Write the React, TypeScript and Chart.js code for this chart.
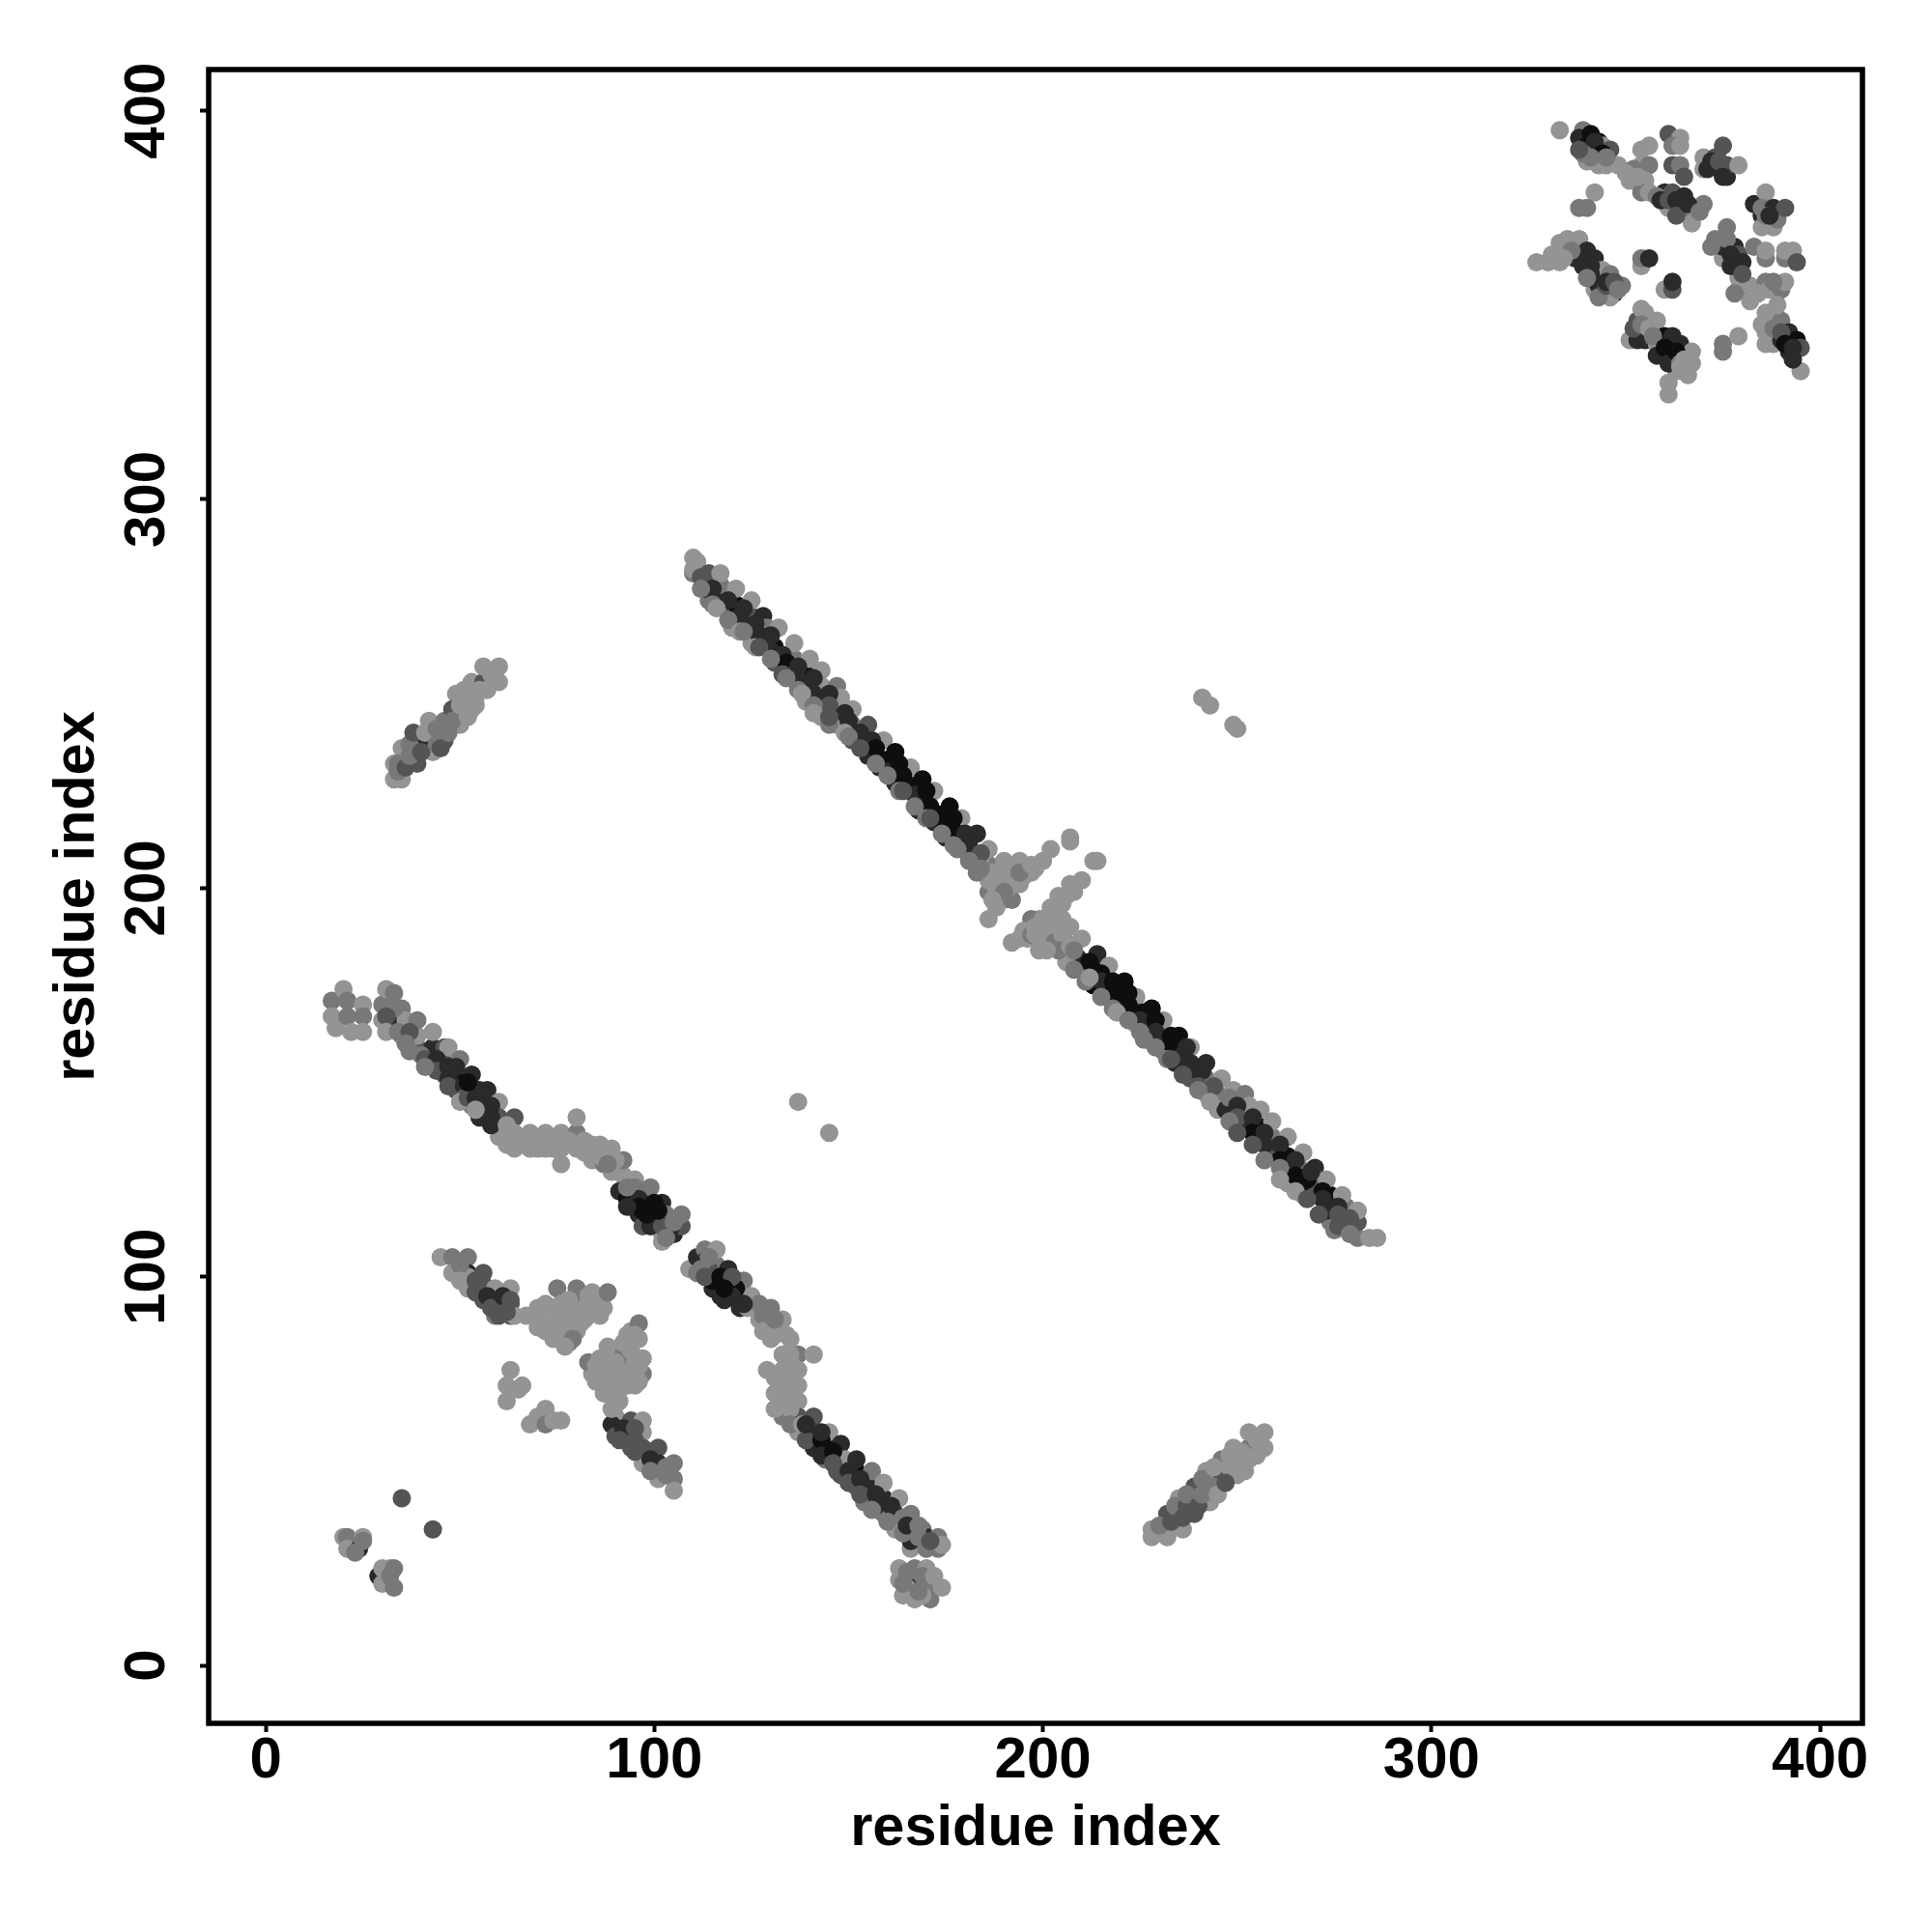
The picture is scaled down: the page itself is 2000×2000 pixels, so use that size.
import React, { useEffect, useRef } from "react";
import { Chart, registerables } from "chart.js";

Chart.register(...registerables);

type Pt = [number, number, number];

const xTickValues = [0, 100, 200, 300, 400];
const yTickValues = [0, 100, 200, 300, 400];
const axisLabel = "residue index";
// contact strength 0 (weak) to 4 (strong) -> gray level
const strengthGrays = [148, 120, 84, 42, 14];

const diagonalUnderRim: Pt[] = [
  [112,277,1],[115,273,1],[116,272,0],[119,269,1],[122,266,0],[123,266,1],[126,262,0],[127,262,2],[130,259,1],[133,255,2],[134,254,1],[137,251,1],[138,250,0],[141,247,1],[141,245,0],[145,242,1],[145,244,2],[149,240,0],[150,239,1],[153,236,2],[157,232,1],[160,229,1],[163,225,1],[164,225,2],[167,221,1],[170,218,1],[171,218,2],[174,214,1],[177,211,1],[178,210,1],[181,207,1],[184,205,1],
  [208,179,1],[211,176,1],[212,177,0],[215,172,1],[218,169,1],[219,168,0],[222,166,1],[225,163,1],[226,161,1],[229,159,1],[232,156,1],[233,156,2],[236,152,2],[240,149,2],[240,148,1],[243,145,0],[248,140,1],[250,137,2],[254,134,2],[257,130,1],[261,128,1],[261,125,0],[265,122,0],[268,120,2],[271,116,2],[275,112,1],[276,113,2],[279,111,1],
];

const diagonalUnderCore: Pt[] = [
  [112,280,2],[115,277,3],[119,274,3],[122,270,3],[123,272,3],[126,268,3],[127,265,3],[130,265,3],[130,261,3],[133,260,3],[134,258,4],[137,257,3],[138,253,3],[141,254,3],[141,250,3],[145,250,3],[145,247,2],[149,245,3],[150,243,3],[153,240,3],[156,238,3],[157,236,4],[160,233,4],[160,230,3],[163,232,4],[164,229,4],[167,226,4],[167,224,3],[170,225,4],[171,221,4],[173,219,4],[174,217,4],[177,218,4],[178,214,4],[180,214,3],[181,212,3],[184,209,2],
  [212,181,4],[215,178,4],[215,176,3],[218,173,4],[218,176,4],[222,173,4],[222,170,4],[226,168,4],[225,166,3],[229,166,4],[229,163,3],[233,162,4],[233,160,4],[236,157,3],[237,159,3],[240,153,3],[241,153,3],[244,149,2],[248,146,1],[250,144,3],[250,141,2],[254,141,3],[254,137,4],[257,137,3],[257,134,3],[261,134,3],[261,130,4],[265,130,3],[265,126,4],[268,125,4],[269,127,3],[272,122,4],[272,120,3],[276,118,3],[276,116,2],[279,115,2],
];

const turnFill: Pt[] = [
  [188,199,0],[188,203,0],[191,200,0],[191,203,0],[192,205,0],[195,203,0],[196,205,0],[189,202,0],[194,204,1],[190,199,1],[187,197,0],[187,204,0],[184,208,0],[185,204,0],[183,204,1],[197,206,0],
  [194,187,0],[196,187,0],[197,188,1],[198,190,0],[200,192,0],[198,188,0],[201,191,0],[203,193,0],[204,195,0],[205,192,0],[205,196,0],[208,199,0],[206,198,0],[205,188,0],[204,184,1],[207,185,0],[208,184,1],[201,184,0],[199,184,0],
];

const lowerUnder: Pt[] = [
  [33,169,1],[31,167,2],[31,163,0],[34,163,1],[37,163,2],[36,160,1],[37,158,1],[40,157,1],[41,156,2],[44,156,3],[44,153,2],[41,154,1],[47,151,3],[47,154,3],[47,149,2],[51,149,3],[51,146,2],[50,145,0],[52,146,2],[54,146,3],[55,141,3],[55,148,3],[58,144,3],[58,141,3],[58,139,3],[54,143,0],[52,150,4],[49,154,3],
  [62,139,0],[62,134,0],[66,134,0],[66,135,0],[70,135,0],[70,133,0],[74,135,0],[74,133,0],[78,135,0],[82,135,0],[82,132,0],[86,131,0],[86,134,0],[90,130,0],[88,129,1],
  [93,120,4],[96,120,3],[96,118,4],[96,116,3],[100,116,4],[100,114,3],[100,119,4],[97,113,2],[93,123,1],[103,113,2],[104,112,3],[99,113,3],[102,113,2],[105,114,1],[103,110,1],[97,117,4],[93,118,3],[98,116,4],[101,117,4],
  [113,104,3],[114,102,2],[112,102,1],[113,100,2],[114,105,1],[117,98,4],[117,100,4],[117,95,3],[121,97,4],[120,95,3],[120,100,2],[123,93,3],[118,97,4],[128,90,1],[128,86,0],[131,85,0],[131,89,1],[135,84,0],[135,80,0],[135,78,0],[131,74,0],[135,74,0],[131,70,0],[135,70,0],[135,66,0],[131,66,0],[135,62,1],[138,62,0],[139,58,2],[139,62,3],
  [143,58,4],[143,60,3],[143,54,3],[146,55,4],[146,52,2],[147,50,2],[150,50,3],[150,47,2],[153,48,3],[153,44,2],[157,44,3],[157,41,3],[156,40,1],[161,41,3],[160,37,1],[164,38,1],[164,34,1],[165,36,3],[168,33,1],[168,36,1],[171,32,2],[165,24,1],[165,20,0],[169,23,1],[169,18,0],[172,23,0],[168,19,1],[164,21,1],
];

const sideUnder: Pt[] = [
  [50,103,1],[50,99,0],[54,99,2],[54,96,2],[57,95,3],[58,92,2],[61,92,2],[61,95,3],[60,90,2],[62,91,2],[63,94,2],[92,61,3],[91,58,2],[95,61,2],[95,58,2],[95,55,2],[99,55,2],[99,53,3],[99,50,1],[103,51,1],[103,49,1],
  [70,92,0],[74,92,0],[74,88,0],[72,86,0],[76,93,0],[75,88,0],[78,86,0],[78,94,0],[80,90,0],[80,86,0],[82,92,0],[83,90,0],[77,91,0],[83,95,0],[86,90,0],[79,84,1],[77,82,0],
  [86,75,0],[85,73,0],[87,72,0],[88,70,0],[88,72,0],[85,75,0],[91,71,0],[92,75,0],[95,78,0],[94,75,0],[90,78,0],[88,79,0],[91,68,0],[89,66,0],[92,83,0],[95,85,0],[96,77,0],[96,73,0],[95,72,0],[94,81,0],
];

const mirrorUnder: Pt[] = [
  [34,230,1],[36,231,2],[37,234,1],[37,237,1],[38,240,2],[40,235,2],[41,240,0],[44,241,1],[44,237,1],[45,236,2],[47,240,1],[48,243,1],[50,247,0],[51,248,0],[52,244,0],[51,251,0],[55,251,0],[54,247,0],[57,251,0],[58,255,0],
  [230,36,1],[233,37,2],[234,41,1],[237,41,2],[237,44,1],[236,38,2],[240,41,2],[241,44,1],[241,48,1],[244,46,1],[245,44,0],[244,51,0],[248,51,0],[248,54,0],[247,47,2],[251,52,0],[251,55,0],[255,54,0],[255,58,0],[252,50,0],
];

const cornerUnder: Pt[] = [
  [342,392,3],[344,389,4],[345,388,1],[341,388,1],[339,389,1],[338,390,2],[352,385,1],[350,384,0],[353,383,0],[358,378,1],[359,377,3],[361,377,2],[363,377,3],[363,373,2],[366,376,3],[369,374,1],[371,385,3],[372,387,3],[374,387,2],[375,383,3],[386,373,1],[387,373,3],[372,365,1],[376,367,1],[377,360,3],[377,363,3],[380,361,3],[380,358,2],[378,353,1],[384,353,0],[388,356,1],[389,350,0],[385,345,0],[388,344,1],[390,343,2],[391,340,4],[393,339,3],[393,336,3],
  [339,362,3],[341,360,3],[341,358,3],[343,355,3],[343,352,1],[345,355,2],[345,356,3],[347,356,2],[348,354,1],[340,357,1],[336,364,1],[334,362,0],[351,341,0],[353,341,3],[352,344,2],[354,345,1],[356,344,0],[357,342,1],[358,337,3],[360,337,3],[360,339,4],[361,335,3],[363,338,4],[364,335,1],[365,336,0],[364,334,0],
];

const diagonalUpper: Pt[] = [
  [110,281,1],[110,282,0],[110,285,0],[111,284,0],[114,274,1],[113,277,3],[114,281,2],[117,274,3],[117,278,1],[117,281,0],
  [120,267,0],[120,270,2],[121,273,4],[121,277,0],[125,263,0],[125,267,4],[125,270,2],[125,274,0],[128,263,2],[128,270,3],[129,267,1],[132,267,0],
  [131,258,2],[131,262,4],[135,255,3],[136,259,1],[136,263,0],[139,248,0],[139,252,3],[139,255,4],[140,259,0],[143,244,0],[142,248,3],[143,252,0],[143,256,0],
  [147,242,0],[147,252,1],[148,249,0],[151,238,2],[151,242,1],[151,246,0],[155,234,3],[154,238,3],[155,242,2],[158,231,3],[159,238,0],[161,230,4],[162,227,3],[162,235,4],
  [165,227,3],[166,231,0],[168,220,3],[168,223,4],[169,228,4],[172,217,3],[172,225,0],[175,213,3],[175,216,4],[176,221,4],[179,210,0],[179,218,0],[182,209,3],[183,214,3],[186,210,0],
];

const diagonalTurn: Pt[] = [
  [186,192,0],[188,195,0],[186,199,1],[186,202,0],[186,206,1],[190,197,0],[189,200,0],[192,197,1],[190,204,0],[190,207,0],[194,201,0],[193,204,0],[194,207,0],
  [197,204,0],[198,205,0],[200,207,0],[202,210,0],[207,213,0],[207,212,0],[214,207,0],[213,207,0],[210,202,0],[207,201,0],[204,198,0],[202,195,0],[199,192,0],
  [197,192,1],[195,189,0],[192,186,0],[200,189,1],[199,186,0],[202,193,0],[203,190,0],[202,187,0],[207,190,0],[206,186,0],[203,186,1],[206,183,1],[210,187,0],[209,182,3],[206,181,0],
];

const diagonalLower: Pt[] = [
  [210,179,1],[213,179,4],[214,183,3],[217,180,0],[213,175,4],[217,172,1],[217,175,4],[221,176,4],[220,172,4],[220,168,3],[224,172,0],[224,168,3],[224,165,0],
  [227,165,4],[227,161,3],[228,169,4],[231,166,0],[231,161,3],[231,158,1],[235,162,4],[234,158,3],[234,155,3],[238,159,0],[238,155,3],[238,151,2],[242,155,3],[242,151,1],
  [242,147,0],[245,147,1],[245,143,0],[246,151,0],[247,143,3],[249,148,0],[249,140,0],[252,147,1],[252,139,3],[253,144,0],[255,139,4],[255,135,3],[256,143,0],
  [259,132,2],[259,136,1],[259,140,0],[263,124,0],[263,128,2],[263,131,4],[263,136,0],[266,128,1],[267,121,0],[267,124,4],[267,132,0],[270,128,3],[270,121,2],[271,125,2],
  [274,114,1],[273,117,3],[274,121,4],[273,125,0],[277,114,2],[278,118,1],[277,121,0],[281,110,1],[281,114,2],[281,117,0],[284,110,0],[286,110,0],
];

const lowerStrandTop: Pt[] = [
  [17,171,1],[17,167,0],[18,164,0],[20,174,0],[21,171,1],[21,167,1],[22,163,0],[25,170,0],[25,167,1],[25,163,0],
  [30,166,0],[30,170,1],[31,174,0],[33,166,3],[33,173,1],[35,162,0],[35,169,1],[36,166,0],[39,159,2],[39,162,0],[39,166,1],[42,155,0],[43,159,3],[43,163,0],
  [46,152,2],[46,155,2],[46,159,2],[47,159,0],[49,148,2],[49,151,4],[50,156,1],[53,144,1],[53,148,3],[53,152,3],[56,144,3],[57,141,3],[57,148,3],[60,145,0],[60,141,2],[64,141,2],
  [60,136,0],[64,133,0],[64,137,0],[68,133,0],[68,137,0],[72,133,0],[72,137,0],[76,129,0],[76,133,0],[76,137,0],[80,133,0],[80,137,1],[80,141,0],
  [84,130,0],[84,134,0],[87,129,1],[89,127,0],[89,133,0],[92,126,0],[92,130,1],[91,122,3],[94,118,3],[94,121,3],[95,125,0],[95,123,1],[98,115,4],[98,119,4],[99,123,1],
  [102,109,0],[102,111,0],[102,115,3],[102,119,3],[105,111,3],[103,116,1],[107,113,2],[107,116,1],
];

const lowerStrandMiddle: Pt[] = [
  [109,102,0],[111,101,1],[111,105,3],[113,107,1],[115,97,3],[115,99,4],[116,103,1],[116,107,0],[118,94,3],[119,98,4],[119,102,3],[123,99,1],[122,92,3],[122,96,1],
  [124,92,0],[125,95,0],[127,89,0],[127,93,1],[130,84,0],[129,88,1],[130,92,1],[133,89,0],[134,85,0],
  [133,80,0],[137,80,1],[141,80,0],[129,76,0],[133,76,0],[137,76,0],[133,72,0],[137,72,0],[133,68,0],[137,68,0],[133,64,1],[137,60,0],[137,64,2],
];

const lowerStrandBottom: Pt[] = [
  [141,56,3],[141,60,3],[141,64,2],[145,56,4],[145,60,0],[144,53,1],[148,49,2],[148,57,3],[149,53,0],[152,46,2],[152,50,4],[152,53,3],
  [154,42,1],[155,46,3],[156,50,1],[159,39,1],[159,43,3],[159,47,0],[162,35,0],[162,39,3],[163,43,0],[166,30,0],[166,32,3],[166,35,0],[166,39,1],
  [169,35,1],[170,30,1],[170,33,3],[173,30,1],[173,33,1],[174,31,0],
  [163,25,0],[163,22,0],[164,18,0],[167,25,1],[167,22,1],[167,20,3],[167,17,0],[170,25,0],[171,21,1],[171,17,1],[174,20,0],
];

const sideStrand: Pt[] = [
  [45,105,0],[48,105,1],[52,105,1],[48,101,0],[52,101,3],[52,97,0],[52,100,0],[56,101,2],[56,98,2],[56,94,2],[59,94,2],[59,90,1],[59,97,0],[63,90,2],[63,93,2],[63,97,0],[64,90,0],
  [89,62,3],[90,59,2],[94,63,2],[93,60,2],[94,56,2],[97,63,0],[97,60,0],[97,56,2],[97,52,0],[101,56,2],[101,52,3],[101,48,0],[105,52,1],[105,48,1],[105,45,0],
];

const sideCrossing: Pt[] = [
  [67,90,0],[70,87,0],[72,93,0],[72,88,0],[70,90,0],[73,86,0],[74,84,0],[75,97,1],[76,90,0],[76,86,0],[78,83,1],[78,89,0],[76,84,0],[80,97,1],[80,93,1],[81,90,0],[79,86,0],[81,88,0],[82,89,0],[78,92,0],
  [84,96,0],[83,93,0],[85,92,0],[87,92,0],[86,94,0],[88,96,1],
  [84,75,0],[83,78,1],[85,77,0],[88,82,0],[86,79,0],[88,77,0],[87,74,0],[87,70,0],[90,80,0],[90,76,0],[90,73,0],[90,70,0],[90,67,0],[90,64,0],[93,72,0],[93,76,0],[92,80,1],[93,85,0],[94,86,0],[96,88,1],[96,84,0],[97,79,0],[97,75,1],
];

const smallClusters: Pt[] = [
  [63,76,0],[62,72,0],[66,72,0],[65,71,0],[62,68,0],[72,66,0],[70,64,0],[68,62,0],[72,62,1],[76,63,0],[74,63,0],
  [35,43,2],[43,35,2],
  [20,33,0],[21,33,1],[21,30,0],[24,30,3],[23,29,1],[25,33,0],[25,32,1],
  [29,23,3],[30,21,0],[30,25,0],[32,25,0],[33,25,1],[32,23,1],[33,20,1],
  [137,145,0],[145,137,0],[241,249,0],[243,247,0],[249,242,0],[250,241,0],
];

const mirrorUp: Pt[] = [
  [33,232,0],[33,228,0],[35,228,0],[35,236,0],[34,232,1],[39,232,2],[39,236,2],[39,238,2],[41,238,3],[42,243,0],[43,235,0],[46,243,1],[46,238,2],[50,242,0],
  [49,250,0],[48,246,2],[53,246,0],[54,249,0],[53,253,0],[56,253,2],[56,257,0],[60,257,0],[60,253,0],
];

const mirrorDown: Pt[] = [
  [228,35,0],[228,33,0],[232,39,2],[232,34,1],[232,33,0],[235,43,0],[235,39,2],[236,35,0],[239,46,2],[239,42,3],[239,39,2],[242,50,0],[243,45,0],[243,42,0],
  [246,49,2],[246,53,1],[250,49,0],[249,56,0],[253,53,0],[253,56,1],[253,60,0],[257,60,0],[257,56,0],
];

const cornerTop: Pt[] = [
  [333,395,0],[339,395,1],[338,393,3],[341,394,4],[343,392,4],[340,391,4],[342,390,3],[344,391,0],[346,390,2],[340,387,0],[343,386,0],[345,386,0],[348,386,0],
  [342,379,0],[338,375,1],[340,375,1],
  [354,390,0],[356,391,0],[354,386,0],[356,386,1],[351,382,0],[355,382,0],[354,379,1],[356,379,0],
  [361,394,2],[364,393,0],[362,391,1],[364,391,0],[362,386,2],[364,386,1],[365,383,2],
  [360,379,3],[362,379,2],[361,375,0],[365,378,3],[364,375,3],[367,373,1],[367,371,0],[368,375,0],[370,376,1],
  [370,388,0],[370,385,0],[373,388,2],[374,385,3],[376,383,3],[376,386,2],[379,386,0],[375,391,2],
  [383,376,3],[385,373,3],[385,370,0],[386,379,0],[385,375,1],[388,370,0],[388,375,3],[389,372,1],[391,375,2],
];

const cornerRight: Pt[] = [
  [373,367,1],[375,362,0],[375,365,3],[376,370,1],[378,365,3],[379,360,3],[379,363,2],[379,354,1],[379,357,0],[382,355,0],[382,351,0],
  [383,365,1],[386,362,1],[386,364,0],[391,362,1],[391,364,0],[393,364,0],[394,361,2],
  [386,356,1],[387,354,0],[390,354,1],[391,356,0],
  [386,348,0],[387,346,0],[386,343,0],[386,340,0],[388,340,0],[390,346,1],[390,341,3],[392,343,3],[392,338,3],[394,341,4],[395,339,2],[395,333,0],
  [375,340,1],[375,338,1],[379,342,0],
];

const cornerLower: Pt[] = [
  [327,361,0],[330,361,0],[331,363,0],[333,366,0],[333,361,0],[335,367,0],[338,367,0],[337,362,3],[339,360,3],[340,364,3],[342,362,3],
  [342,354,0],[341,357,3],[344,359,0],[344,353,0],[347,353,3],[346,358,1],[346,352,0],[349,355,1],
  [354,360,0],[354,362,1],[356,362,3],[360,354,0],[362,354,2],[362,356,3],
  [353,343,1],[353,346,2],[354,349,0],[355,341,3],[354,342,0],[355,348,0],[358,346,0],[358,340,0],[360,342,4],[361,340,3],[362,342,3],[362,336,3],[364,340,3],[363,336,1],
  [367,338,0],[367,335,0],[363,333,0],[366,332,0],[361,330,0],[361,327,0],
];

const clusters: Pt[][] = [
  diagonalUnderRim, diagonalUnderCore, turnFill, lowerUnder, sideUnder, mirrorUnder, cornerUnder,
  diagonalUpper, diagonalTurn, diagonalLower, lowerStrandTop, lowerStrandMiddle, lowerStrandBottom,
  sideStrand, sideCrossing, smallClusters, mirrorUp, mirrorDown, cornerTop, cornerRight, cornerLower,
];

const FONT = "'Liberation Sans', Arial, sans-serif";
const gray = (s: number) => `rgb(${strengthGrays[s]},${strengthGrays[s]},${strengthGrays[s]})`;

const framePlugin = {
  id: "frame",
  afterDatasetsDraw(chart: any) {
    const { ctx, chartArea: a } = chart;
    ctx.save();
    ctx.lineWidth = 5.5;
    ctx.strokeStyle = "#000";
    ctx.strokeRect(a.left, a.top, a.right - a.left, a.bottom - a.top);
    ctx.restore();
  },
};

export default function App() {
  const ref = useRef<HTMLCanvasElement>(null);
  useEffect(() => {
    const grid = { drawOnChartArea: false, drawTicks: true, tickLength: 9, tickWidth: 4, tickColor: "#000" };
    const tickFont = { family: FONT, size: 60, weight: "bold" as const };
    const titleFont = { family: FONT, size: 59.5, weight: "bold" as const };
    const chart = new Chart(ref.current!, {
      type: "scatter",
      data: {
        datasets: clusters.map((c) => ({
          data: c.map((p) => ({ x: p[0], y: p[1] })),
          pointRadius: 9.5,
          pointBorderWidth: 0,
          pointBackgroundColor: c.map((p) => gray(p[2])),
        })),
      },
      options: {
        animation: false,
        responsive: false,
        devicePixelRatio: 1,
        layout: { padding: { top: 72, right: 72, left: 0, bottom: 0 } },
        plugins: { legend: { display: false }, tooltip: { enabled: false } },
        scales: {
          x: {
            type: "linear",
            min: -14.7,
            max: 410.9,
            grid,
            border: { display: false },
            afterBuildTicks: (s: any) => { s.ticks = xTickValues.map((value) => ({ value })); },
            afterFit: (s: any) => { s.height = 216; },
            ticks: { color: "#000", font: tickFont, maxRotation: 0, minRotation: 0, padding: -6, autoSkip: false },
            title: { display: true, text: axisLabel, color: "#000", font: titleFont, padding: { top: 0, bottom: 71 } },
          },
          y: {
            type: "linear",
            min: -14.9,
            max: 410.6,
            grid,
            border: { display: false },
            afterBuildTicks: (s: any) => { s.ticks = yTickValues.map((value) => ({ value })); },
            afterFit: (s: any) => { s.width = 216; },
            ticks: { color: "#000", font: tickFont, maxRotation: 90, minRotation: 90, padding: 3, crossAlign: "center", autoSkip: false },
            title: { display: true, text: axisLabel, color: "#000", font: titleFont, padding: { top: 45, bottom: 0 } },
          },
        },
      } as any,
      plugins: [framePlugin],
    });
    return () => chart.destroy();
  }, []);
  return (
    <canvas
      ref={ref}
      width={2000}
      height={2000}
      style={{ position: "absolute", left: 0, top: 0, width: 2000, height: 2000, background: "#fff" }}
    />
  );
}
